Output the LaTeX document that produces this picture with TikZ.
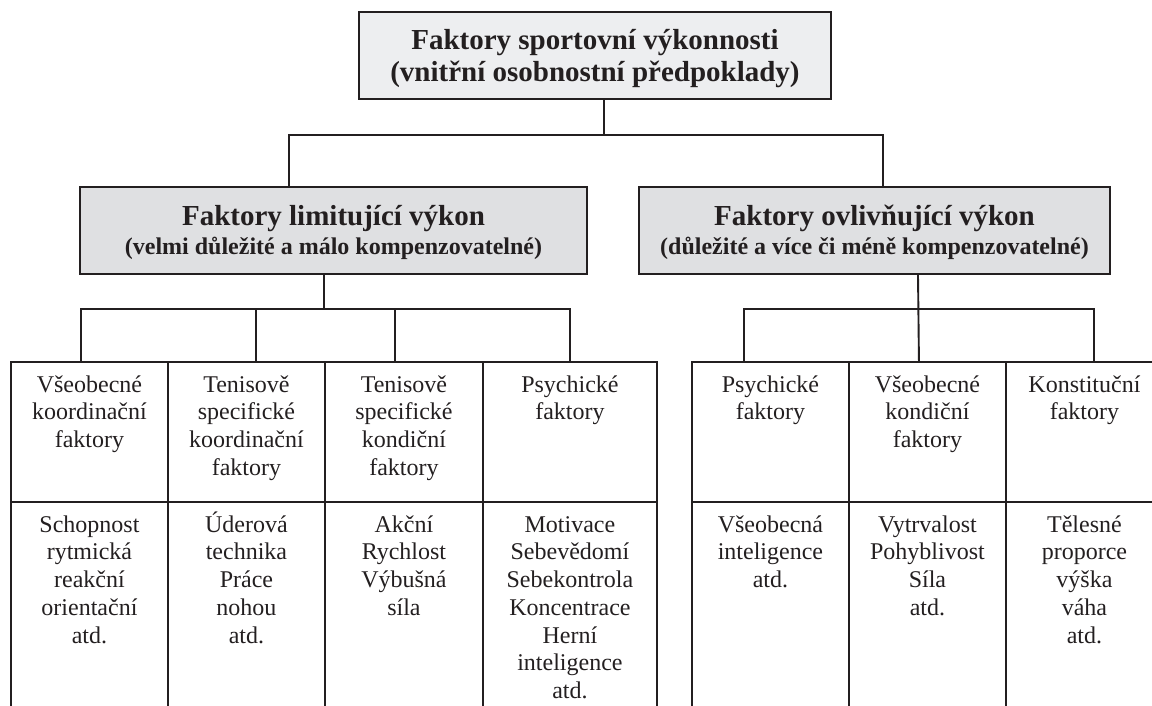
\documentclass[tikz,border=0pt]{standalone}
\usepackage{fontspec}
\setmainfont{Liberation Serif}
\usetikzlibrary{positioning}
\definecolor{ink}{HTML}{231F20}
\definecolor{headfill}{HTML}{EDEEF0}
\definecolor{groupfill}{HTML}{DFE0E2}

\begin{document}
\begin{tikzpicture}[x=1pt, y=-1pt,
    box/.style={draw=ink, line width=2.3pt, inner sep=0pt, align=center, text=ink},
    cell/.style={draw=ink, line width=1.9pt, inner sep=0pt},
    celltext/.style={align=center, inner sep=0pt, text=ink, font=\fontsize{24}{27.7}\selectfont},
    link/.style={draw=ink, line width=1.9pt}]
  \useasboundingbox (0,0) rectangle (1152,705);

  % Top box
  \node[box, fill=headfill, minimum width=472pt, minimum height=87pt,
        font=\bfseries\fontsize{29}{32}\selectfont] (top) at (595,55.5)
    {\rule{0pt}{26pt}Faktory sportovní výkonnosti\\(vnitřní osobnostní předpoklady)};

  % Second level
  \node[box, fill=groupfill, minimum width=507pt, minimum height=87pt,
        font=\bfseries\fontsize{29}{29}\selectfont] (limit) at (333.5,230.5)
    {\rule{0pt}{24pt}Faktory limitující výkon\\{\fontsize{24}{29}\selectfont (velmi důležité a málo kompenzovatelné)}};
  \node[box, fill=groupfill, minimum width=471pt, minimum height=87pt,
        font=\bfseries\fontsize{29}{29}\selectfont] (affect) at (874.5,230.5)
    {\rule{0pt}{24pt}Faktory ovlivňující výkon\\{\fontsize{24}{29}\selectfont (důležité a více či méně kompenzovatelné)}};

  \draw[link] ([xshift=9pt]top.south) -- ++(0,35) -| ([xshift=-44.5pt]limit.north);
  \draw[link] ([xshift=9pt]top.south) ++(0,35) -| ([xshift=8.5pt]affect.north);

  % Columns: header cell and list cell
  \foreach \n/\x/\w/\head/\body in {
      1/10/157/{Všeobecné\\koordinační\\faktory}/{Schopnost\\rytmická\\reakční\\orientační\\atd.},
      2/167/157/{Tenisově\\specifické\\koordinační\\faktory}/{Úderová\\technika\\Práce\\nohou\\atd.},
      3/324/158/{Tenisově\\specifické\\kondiční\\faktory}/{Akční\\Rychlost\\Výbušná\\síla},
      4/482/174/{Psychické\\faktory}/{Motivace\\Sebevědomí\\Sebekontrola\\Koncentrace\\Herní\\inteligence\\atd.},
      5/691/157/{Psychické\\faktory}/{Všeobecná\\inteligence\\atd.},
      6/848/157/{Všeobecné\\kondiční\\faktory}/{Vytrvalost\\Pohyblivost\\Síla\\atd.},
      7/1005/157/{Konstituční\\faktory}/{Tělesné\\proporce\\výška\\váha\\atd.}} {
    \node[cell, minimum width=\w pt, minimum height=140pt, anchor=north west] (h\n) at (\x,361) {};
    \node[cell, minimum width=\w pt, minimum height=260pt, anchor=north west] (b\n) at (\x,501) {};
    \node[celltext, below=9pt of h\n.north] {\rule{0pt}{22pt}\head};
    \node[celltext, below=9pt of b\n.north] {\rule{0pt}{22pt}\body};
  }

  % Connectors to the columns
  \draw[link] ([xshift=-9.5pt]limit.south) -- ++(0,35);
  \draw[link] ([xshift=-8.5pt]h1.north) -- ++(0,-52) -| (h4.north);
  \draw[link] ([xshift=9.5pt]h2.north) -- ++(0,-52);
  \draw[link] ([xshift=-9pt]h3.north) -- ++(0,-52);

  \draw[link] ([xshift=43.5pt]affect.south) -- ([xshift=-8.5pt]h6.north);
  \draw[link] ([xshift=-26.5pt]h5.north) -- ++(0,-52) -| ([xshift=9.5pt]h7.north);
\end{tikzpicture}
\end{document}
